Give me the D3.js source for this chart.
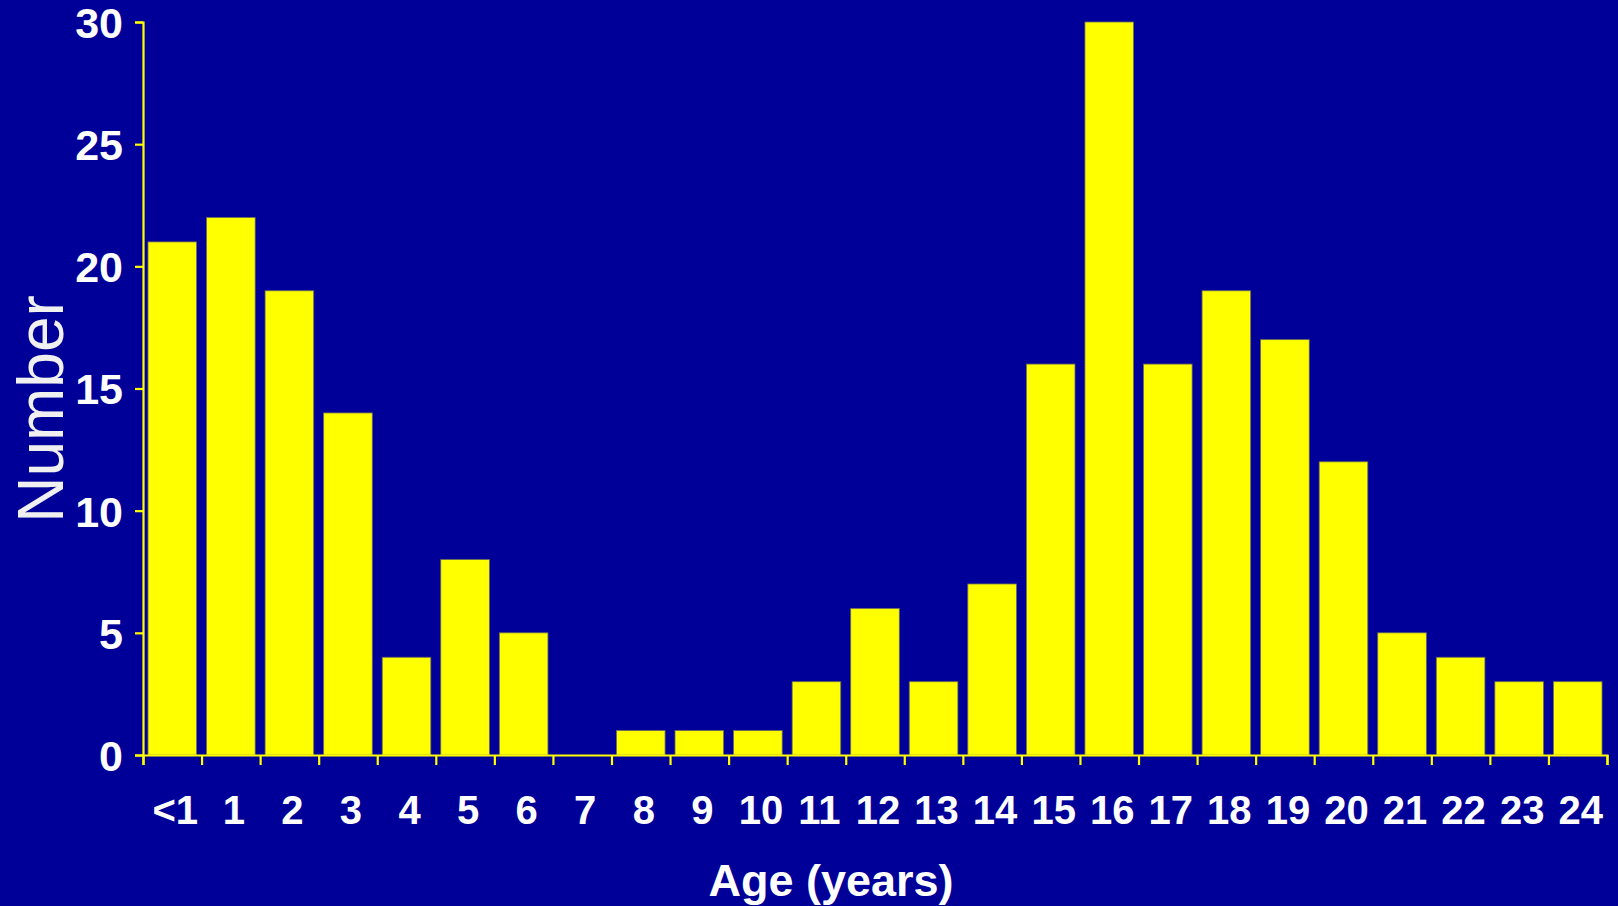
<!DOCTYPE html>
<html lang="en">
<head>
<meta charset="UTF-8">
<script src="https://d3js.org/d3.v7.min.js"></script>
<title>Age distribution</title>
<style>
  body { margin:0; background:#000099; }
  svg { display:block; }
</style>
</head>
<body>
<svg id="chart" width="1618" height="906"></svg>
<script>
// data
const ages = ["<1","1","2","3","4","5","6","7","8","9","10","11","12","13","14","15","16","17","18","19","20","21","22","23","24"];
const counts = [21,22,19,14,4,8,5,0,1,1,1,3,6,3,7,16,30,16,19,17,12,5,4,3,3];
const yTicks = [0,5,10,15,20,25,30];

const svg = d3.select("svg#chart");
const width = +svg.attr("width");
const height = +svg.attr("height");
const margin = {top:22, right:11, bottom:151, left:143};
const chartWidth = width - margin.left - margin.right;
const chartHeight = height - margin.top - margin.bottom;

svg.append("rect").attr("width", width).attr("height", height).attr("fill", "#000099");

const g = svg.append("g").attr("transform", "translate(" + margin.left + "," + margin.top + ")");

const x = d3.scaleBand().domain(ages).range([0, chartWidth]).paddingInner(0.17).paddingOuter(0.085);
const xEdges = d3.scaleLinear().domain([0, ages.length]).range([0, chartWidth]);
const y = d3.scaleLinear().domain([0, 30]).range([chartHeight, 0]);

// bars
g.selectAll("rect.bar")
  .data(counts)
  .join("rect")
  .attr("class", "bar")
  .attr("x", (d, i) => x(ages[i]))
  .attr("y", d => y(d))
  .attr("width", x.bandwidth())
  .attr("height", d => chartHeight - y(d))
  .attr("fill", "#ffff00")
  .attr("stroke", "#6b6b5a")
  .attr("stroke-width", 0.8);

// y axis
const yAxis = g.append("g")
  .call(d3.axisLeft(y).tickValues(yTicks).tickSize(8).tickPadding(12));
yAxis.select(".domain").attr("stroke", "#ffff00").attr("stroke-width", 2.2);
yAxis.selectAll(".tick line").attr("stroke", "#ffff00").attr("stroke-width", 2.2);
yAxis.selectAll(".tick text")
  .attr("fill", "#ffffff")
  .attr("font-family", "Liberation Sans, Arial, sans-serif")
  .attr("font-weight", "bold")
  .attr("font-size", "43px")
  .attr("dy", "0.36em");

// x axis: ticks at band edges
const xAxis = g.append("g")
  .attr("transform", "translate(0," + chartHeight + ")")
  .call(d3.axisBottom(xEdges).ticks(ages.length).tickSize(10).tickSizeOuter(10).tickFormat(""));
xAxis.select(".domain").attr("stroke", "#ffff00").attr("stroke-width", 2.2);
xAxis.selectAll(".tick line").attr("stroke", "#ffff00").attr("stroke-width", 2.2);

// x labels
const xLabels = g.append("g")
  .attr("transform", "translate(3," + chartHeight + ")")
  .call(d3.axisBottom(x).tickSize(0).tickPadding(41));
xLabels.select(".domain").remove();
xLabels.selectAll(".tick text")
  .attr("fill", "#ffffff")
  .attr("font-family", "Liberation Sans, Arial, sans-serif")
  .attr("font-weight", "bold")
  .attr("font-size", "40px");

// axis titles
svg.append("text")
  .attr("transform", "translate(63,409) rotate(-90)")
  .attr("text-anchor", "middle")
  .attr("fill", "#f0f0f0")
  .attr("font-family", "Liberation Sans, Arial, sans-serif")
  .attr("font-size", "64px")
  .text("Number");

svg.append("text")
  .attr("x", 831)
  .attr("y", 896)
  .attr("text-anchor", "middle")
  .attr("fill", "#ffffff")
  .attr("font-family", "Liberation Sans, Arial, sans-serif")
  .attr("font-weight", "bold")
  .attr("font-size", "45px")
  .text("Age (years)");
</script>
</body>
</html>
